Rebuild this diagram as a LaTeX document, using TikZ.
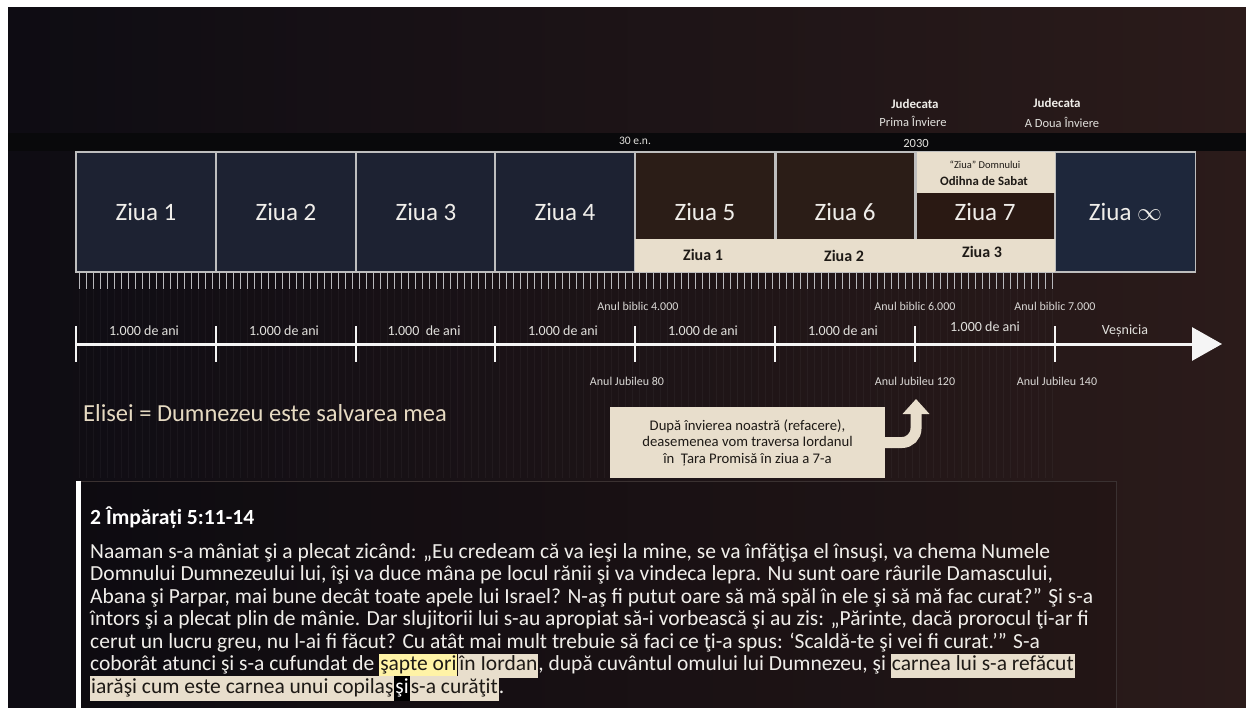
\documentclass[tikz,border=0pt]{standalone}
\usepackage{fontspec}
\setmainfont{Carlito}
\usetikzlibrary{arrows.meta,calc}
\definecolor{bgL}{HTML}{0E0C13}
\definecolor{bgR}{HTML}{2B1B1A}
\definecolor{bandc}{HTML}{09090B}
\definecolor{navy}{HTML}{1D2232}
\definecolor{navyinf}{HTML}{1E273B}
\definecolor{brownd}{HTML}{2B1D17}
\definecolor{brown7}{HTML}{2A1913}
\definecolor{beige}{HTML}{E8DECC}
\definecolor{bord}{HTML}{BEBEBE}
\definecolor{txt}{HTML}{F0EEEA}
\definecolor{txtdark}{HTML}{1E1A16}
\definecolor{elisei}{HTML}{E6DAC2}
\definecolor{hlyel}{HTML}{FFF3A6}
\definecolor{tickc}{HTML}{B8B8BC}
\definecolor{boxline}{HTML}{3A3131}
\newcommand{\hlb}[1]{{\setlength{\fboxsep}{1pt}\colorbox{beige}{\color{txtdark}\strut #1}}}
\newcommand{\hly}[1]{{\setlength{\fboxsep}{1pt}\colorbox{hlyel}{\color{txtdark}\strut #1}}}
\newcommand{\hlk}[1]{{\setlength{\fboxsep}{1pt}\colorbox{black}{\color{white}\strut #1}}}
\begin{document}
\begin{tikzpicture}[x=1pt,y=-1pt,
  daybox/.style={draw=bord,line width=1.6pt,fill=navy,minimum width=140pt,minimum height=120pt,inner sep=0pt,text=txt,font=\fontsize{25}{29}\selectfont},
  daytxt/.style={text=txt,font=\fontsize{25}{29}\selectfont,inner sep=0pt},
  bandtxt/.style={text=txtdark,font=\bfseries\fontsize{16}{19}\selectfont,inner sep=0pt},
  toplbl/.style={text=txt!88!gray,font=\fontsize{12.5}{14}\selectfont,inner sep=0pt},
  toplblb/.style={text=txt,font=\bfseries\fontsize{13}{15}\selectfont,inner sep=0pt},
  smlbl/.style={text=txt!88!gray,font=\fontsize{11.5}{13}\selectfont,inner sep=0pt},
  yrlbl/.style={text=txt!88!gray,font=\fontsize{14}{16}\selectfont,inner sep=0pt},
  anlbl/.style={text=txt!80!gray,font=\fontsize{12}{14}\selectfont,inner sep=0pt},
  bodyln/.style={anchor=base west,inner sep=0pt,text=txt,font=\fontsize{21.5}{22.5}\selectfont},
]
\useasboundingbox (0,0) rectangle (1246,708);
\fill[white] (0,0) rectangle (1246,708);
\shade[left color=bgL,right color=bgR] (8,8) rectangle (1246,708);
\fill[bandc] (8,133) rectangle (1246,151);
% faint stripes
\foreach \i in {0,...,139} \draw[white,opacity=0.035,line width=1pt] ({79.5+7*\i},290) -- ({79.5+7*\i},478);

% top labels
\node[toplblb] (j1) at (915,104) {Judecata};
\node[toplbl] (p1) at (913,121) {Prima Înviere};
\node[toplblb] (j2) at (1057,103) {Judecata};
\node[toplbl] (p2) at (1062,122) {A Doua Înviere};
\node[smlbl] (en) at (635,141) {30 e.n.};
\node[smlbl,font=\fontsize{12.5}{14}\selectfont] (y2030) at (916,143) {2030};

% day boxes
\node[daybox] (d1) at (146,212) {Ziua 1};
\node[daybox] (d2) at (286,212) {Ziua 2};
\node[daybox] (d3) at (426,212) {Ziua 3};
\node[daybox] (d4) at (565,212) {Ziua 4};
\node[daybox,fill=brownd] (d5) at (705,212) {};
\node[daybox,fill=brownd] (d6) at (845,212) {};
\node[daybox,fill=brown7] (d7) at (985,212) {};
\node[daybox,fill=navyinf] (dinf) at (1125.5,212) {Ziua $\infty$};
% beige bands
\node[fill=beige,minimum width=420pt,minimum height=33pt,inner sep=0pt] (band) at (845,255.5) {};
\node[fill=beige,minimum width=140pt,minimum height=41pt,inner sep=0pt] (s7) at (985,172.5) {};
\draw[bord,line width=1.6pt] (d5.north east) -- (d5.east |- band.north);
\draw[bord,line width=1.6pt] (d6.north east) -- (d6.east |- band.north);
\node[daytxt] (z5) at (705,212) {Ziua 5};
\node[daytxt] (z6) at (845,212) {Ziua 6};
\node[daytxt] (z7) at (985,212) {Ziua 7};
\node[bandtxt] (b1) at (703,255) {Ziua 1};
\node[bandtxt] (b2) at (844,256) {Ziua 2};
\node[bandtxt] (b3) at (982,252) {Ziua 3};
\node[text=txtdark,font=\fontsize{10.5}{12}\selectfont,inner sep=0pt] (zd) at (985,165) {“Ziua” Domnului};
\node[text=txtdark,font=\bfseries\fontsize{12.8}{14}\selectfont,inner sep=0pt] (os) at (984,181) {Odihna de Sabat};

% ruler ticks
\foreach \i in {0,...,139} \draw[tickc,line width=1.3pt] ({79.5+7*\i},273) -- ({79.5+7*\i},289);

% timeline
\coordinate (tl0) at (76,344);
\coordinate (tl1) at (1222,344);
\draw[white!92!gray,line width=3pt,-{Triangle[width=33pt,length=30pt]}] (tl0) -- (tl1);
\foreach \x in {76,216,356,495,635,775,915,1055} \draw[white!92!gray,line width=2.6pt] (\x,326) -- (\x,362);
\node[yrlbl] (a1) at (144,331) {1.000 de ani};
\node[yrlbl] (a2) at (284,331) {1.000 de ani};
\node[yrlbl] (a3) at (424,331) {1.000\ \ de ani};
\node[yrlbl] (a4) at (563,331) {1.000 de ani};
\node[yrlbl] (a5) at (703,331) {1.000 de ani};
\node[yrlbl] (a6) at (843,331) {1.000 de ani};
\node[yrlbl] (a7) at (985,327) {1.000 de ani};
\node[yrlbl] (ves) at (1125,331) {Veșnicia};
\node[anlbl] (ab4) at (638,306) {Anul biblic 4.000};
\node[anlbl] (ab6) at (915,306) {Anul biblic 6.000};
\node[anlbl] (ab7) at (1055,306) {Anul biblic 7.000};
\node[anlbl] (aj80) at (627,381) {Anul Jubileu 80};
\node[anlbl] (aj120) at (915,381) {Anul Jubileu 120};
\node[anlbl] (aj140) at (1057,381) {Anul Jubileu 140};

% Elisei
\node[anchor=base west,inner sep=0pt,text=elisei,font=\fontsize{24.5}{28}\selectfont] (eli) at (83,421) {Elisei = Dumnezeu este salvarea mea};

% callout
\node[fill=beige,minimum width=275pt,minimum height=71pt,inner sep=0pt,text=txtdark,align=center,font=\fontsize{14.7}{16.5}\selectfont] (call) at (747.5,442.5) {După învierea noastră (refacere),\\deasemenea vom traversa Iordanul\\în\ \ Țara Promisă în ziua a 7-a};
\coordinate (tgt) at (916,399);
\draw[beige,line width=11pt,rounded corners=14pt,-{Triangle[width=26pt,length=15pt]}] (call.east) -| (tgt);

% text box
\draw[boxline,fill=black,fill opacity=0.12,line width=0.8pt] (76,481) rectangle (1116,716);
\fill[white] (76,481) rectangle (81,708);
\node[anchor=base west,inner sep=0pt,text=white,font=\bfseries\fontsize{21.6}{24}\selectfont] (ttl) at (90,524) {2 Împărați 5:11-14};
\node[bodyln] (l1) at (90,558) {Naaman s-a mâniat şi a plecat zicând: „Eu credeam că va ieşi la mine, se va înfăţişa el însuşi, va chema Numele};
\node[bodyln] (l2) at (90,580.5) {Domnului Dumnezeului lui, îşi va duce mâna pe locul rănii şi va vindeca lepra. Nu sunt oare râurile Damascului,};
\node[bodyln] (l3) at (90,603) {Abana şi Parpar, mai bune decât toate apele lui Israel? N-aş fi putut oare să mă spăl în ele şi să mă fac curat?” Şi s-a};
\node[bodyln] (l4) at (90,625.5) {întors şi a plecat plin de mânie. Dar slujitorii lui s-au apropiat să-i vorbească şi au zis: „Părinte, dacă prorocul ţi-ar fi};
\node[bodyln] (l5) at (90,648) {cerut un lucru greu, nu l-ai fi făcut? Cu atât mai mult trebuie să faci ce ţi-a spus: ‘Scaldă-te şi vei fi curat.’” S-a};
\node[bodyln] (l6) at (90,670.5) {coborât atunci şi s-a cufundat de \hly{şapte ori}\hspace{1pt}\hlb{în Iordan}, după cuvântul omului lui Dumnezeu, şi \hlb{carnea lui s-a refăcut}};
\node[bodyln] (l7) at (90,693) {\hlb{iarăşi cum este carnea unui copilaş}\hlk{şi}\hlb{s-a curăţit}.};
\end{tikzpicture}
\end{document}
